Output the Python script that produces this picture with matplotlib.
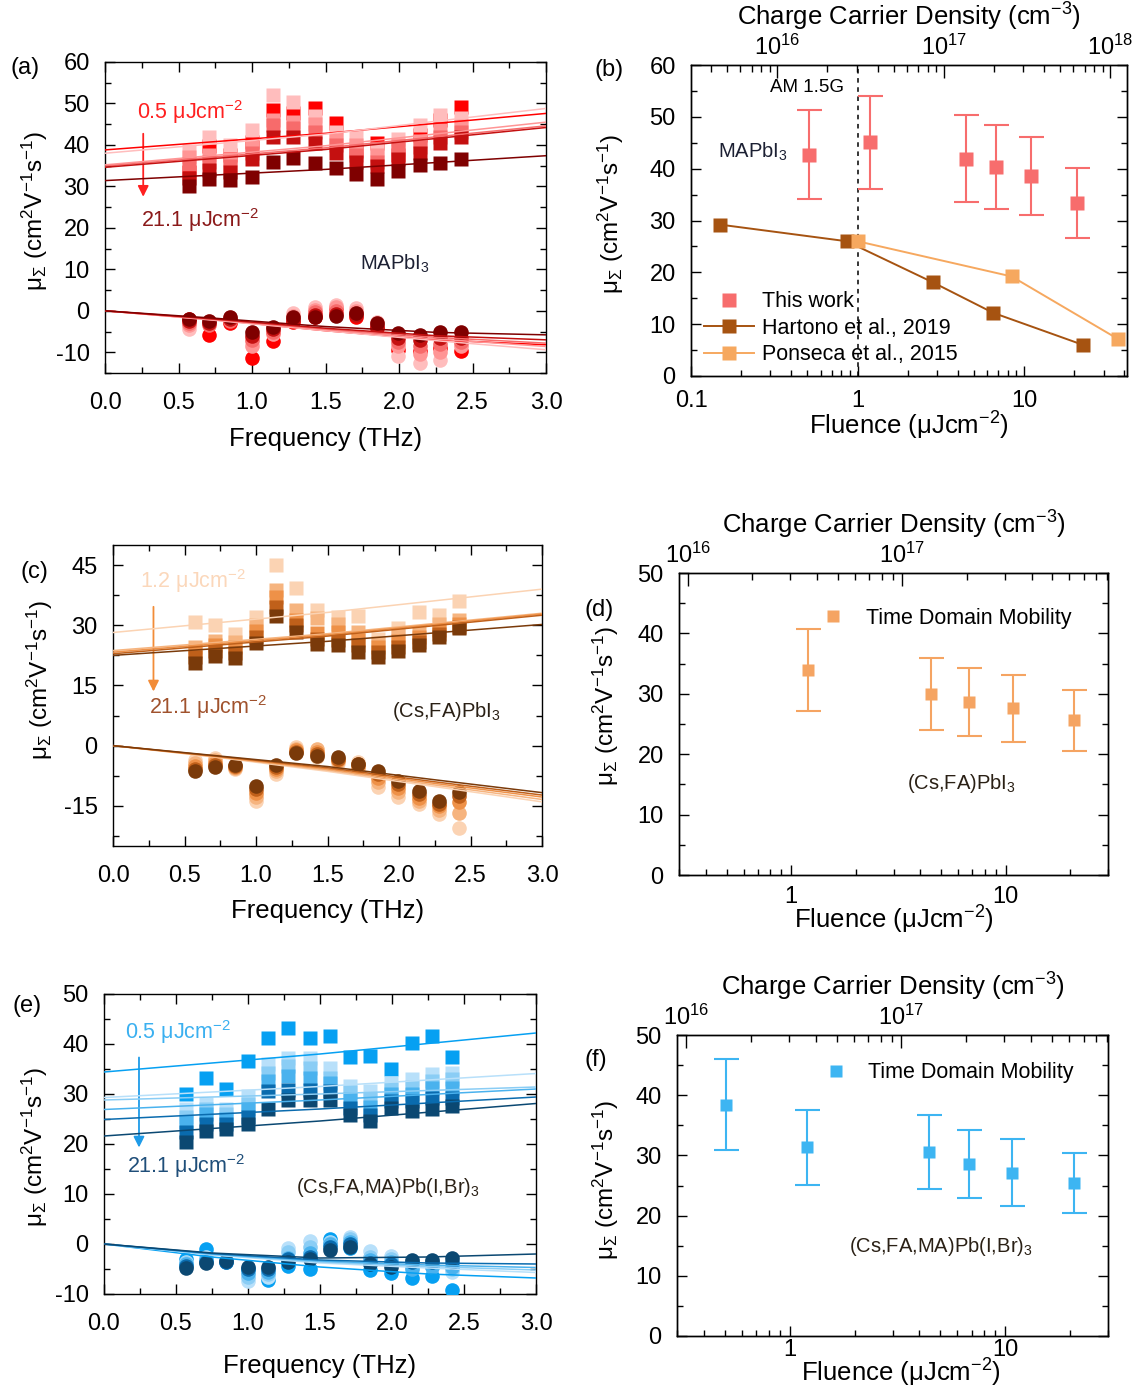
import matplotlib
matplotlib.use("Agg")
import matplotlib.pyplot as plt
from matplotlib.ticker import MultipleLocator, NullFormatter, LogLocator

plt.rcParams.update({
    "font.family": ["Liberation Sans", "DejaVu Sans"],
    "mathtext.fontset": "custom",
    "mathtext.rm": "Liberation Sans",
    "mathtext.it": "Liberation Sans:italic",
    "mathtext.bf": "Liberation Sans:bold",
    "axes.unicode_minus": False,
    "axes.linewidth": 1.0,
})

W, H = 1140, 1389
TICK_FS, LAB_FS, TXT_FS = 17, 18.5, 15.5
UNIT = "μJcm$^{-2}$"
YLAB = "μ$_{\\Sigma}$ (cm$^{2}$V$^{-1}$s$^{-1}$)"
DENS_PER_FLU = 3.03e16   # cm^-3 per uJ/cm^2, top axes

# ---------------- frequency-resolved mobility (a), (c), (e) ----------------
FREQ = [0.57, 0.71, 0.85, 1.00, 1.14, 1.28, 1.43, 1.57, 1.71, 1.85, 1.99, 2.14, 2.28, 2.42]
FIT_F_RE = [0.0, 1.5, 3.0]
FIT_F_IM = [0.0, 0.75, 1.5, 2.25, 3.0]

# (a) MAPbI3, fluences 0.5, 1.2, 4.5, 6.7, 11, 21.1
A_COLORS = ["#FF0000", "#FFBDBD", "#FF9595", "#F76B6B", "#C41010", "#7F0000"]
A_REAL = [
    [33.5, 39.8, 37.6, 40.8, 48.4, 47.7, 48.8, 45.4, 38.5, 40.5, 37.6, 42.4, 46.0, 49.2],
    [38.5, 41.8, 40.0, 43.6, 52.0, 50.4, 47.0, 43.2, 42.0, 39.0, 41.5, 44.8, 47.2, 46.4],
    [37.0, 37.5, 36.5, 39.5, 46.0, 45.6, 45.0, 41.5, 40.0, 37.5, 40.0, 41.0, 43.5, 44.5],
    [35.5, 36.0, 35.0, 38.0, 44.8, 44.0, 43.0, 40.0, 37.5, 36.0, 39.0, 39.5, 42.0, 43.0],
    [32.0, 34.0, 33.5, 36.5, 42.0, 42.0, 40.5, 38.0, 36.0, 35.0, 36.5, 38.0, 40.5, 42.0],
    [30.0, 31.7, 31.6, 32.2, 36.0, 36.8, 35.6, 34.4, 33.0, 31.7, 33.6, 35.2, 35.6, 36.5],
]
A_IMAG = [
    [-2.0, -5.8, -3.0, -11.4, -7.4, -2.6, -1.4, 0.6, -1.4, -4.2, -9.4, -9.8, -9.0, -9.8],
    [-4.5, -2.5, -1.5, -7.5, -5.0, -0.6, 1.0, 1.5, 0.6, -2.6, -11.0, -12.6, -11.8, -8.0],
    [-3.5, -3.0, -2.0, -8.5, -5.5, -1.2, 0.3, 0.8, 0.0, -3.0, -8.5, -10.5, -10.0, -8.5],
    [-3.0, -3.5, -2.5, -7.0, -5.0, -1.8, -0.3, 0.0, -0.5, -3.5, -7.5, -8.5, -8.0, -7.5],
    [-2.5, -3.0, -2.0, -6.0, -4.5, -2.2, -1.0, -0.8, -1.0, -3.8, -6.5, -7.0, -6.5, -6.5],
    [-2.0, -2.5, -1.5, -5.0, -3.8, -1.5, -1.5, -1.3, -0.5, -3.0, -5.4, -5.8, -5.0, -5.0],
]
A_FIT_RE = [[38.8, 42.8, 47.6], [38.0, 42.6, 48.8], [35.2, 39.8, 45.5],
            [34.9, 39.3, 44.6], [34.6, 38.9, 44.2], [31.4, 34.1, 37.4]]
A_FIT_IM = [[0, -2.2, -4.8, -7.0, -8.2], [0, -2.3, -4.8, -7.2, -9.4],
            [0, -2.2, -4.6, -6.8, -8.6], [0, -2.1, -4.4, -6.4, -7.8],
            [0, -2.0, -4.2, -6.0, -7.0], [0, -1.8, -3.8, -5.2, -5.8]]

# (c) (Cs,FA)PbI3, fluences 1.2, 4.5, 6.7, 11, 21.1
C_COLORS = ["#FBD3B3", "#F6B47F", "#EE9148", "#C0601A", "#7A3A0A"]
C_REAL = [
    [30.7, 30.0, 27.9, 32.0, 45.0, 39.3, 33.8, 32.1, 32.3, 26.7, 29.3, 33.3, 32.5, 36.0],
    [24.5, 26.2, 25.8, 30.0, 38.8, 33.8, 31.7, 30.4, 28.3, 25.5, 27.5, 28.3, 30.4, 31.3],
    [23.5, 25.0, 24.5, 28.5, 37.0, 31.3, 28.0, 28.3, 26.3, 24.5, 26.0, 27.0, 28.8, 30.4],
    [22.0, 23.5, 23.0, 27.0, 34.5, 30.0, 26.7, 26.3, 25.0, 23.3, 24.5, 25.8, 27.9, 29.6],
    [20.5, 22.3, 21.9, 25.7, 32.3, 28.2, 25.4, 25.0, 23.3, 22.0, 23.5, 25.0, 27.1, 29.2],
]
C_IMAG = [
    [-3.5, -3.0, -5.8, -13.7, -7.0, -0.4, -2.9, -4.2, -4.0, -10.4, -12.9, -14.6, -17.0, -20.4],
    [-4.2, -3.6, -5.5, -12.8, -6.4, -0.8, -0.8, -3.8, -5.5, -9.0, -11.5, -13.8, -16.0, -16.8],
    [-5.0, -4.2, -5.2, -11.8, -5.8, -1.2, -1.5, -3.5, -5.0, -8.0, -10.5, -13.0, -15.0, -14.0],
    [-5.7, -4.8, -5.0, -10.8, -5.3, -1.5, -2.0, -3.2, -4.5, -7.0, -9.5, -12.0, -14.5, -12.5],
    [-6.3, -5.4, -4.8, -10.0, -4.8, -1.8, -2.5, -2.9, -4.5, -6.3, -8.8, -11.3, -13.8, -11.5],
]
C_FIT_RE = [[28.2, 33.2, 39.0], [23.7, 27.9, 33.0], [23.3, 27.6, 32.8],
            [22.9, 27.3, 32.5], [22.5, 26.0, 30.2]]
C_FIT_IM = [[0, -3.0, -6.4, -10.2, -14.0], [0, -2.9, -6.1, -9.8, -13.4],
            [0, -2.8, -5.8, -9.4, -12.8], [0, -2.7, -5.5, -9.0, -12.3],
            [0, -2.6, -5.2, -8.5, -11.7]]

# (e) (Cs,FA,MA)Pb(I,Br)3, fluences 0.5, 1.2, 4.5, 6.7, 11, 21.1
E_COLORS = ["#06A0F2", "#B8E0FA", "#8ACDF5", "#4AB2EE", "#0A6BAE", "#0B4872"]
E_REAL = [
    [30.0, 33.3, 31.1, 36.6, 41.3, 43.3, 41.3, 41.6, 37.4, 37.6, 35.0, 40.3, 41.6, 37.4],
    [27.0, 28.0, 27.0, 29.6, 36.0, 37.3, 37.3, 35.3, 31.6, 30.6, 32.3, 33.0, 34.0, 34.3],
    [25.5, 27.0, 26.0, 28.0, 34.3, 35.6, 35.3, 33.3, 30.5, 29.0, 31.0, 31.5, 32.6, 33.0],
    [24.5, 26.0, 25.0, 27.0, 32.6, 33.6, 33.3, 32.3, 29.0, 27.5, 30.0, 30.0, 31.3, 31.3],
    [22.5, 24.0, 24.0, 25.5, 30.6, 30.9, 30.9, 30.6, 27.3, 25.9, 28.6, 28.6, 29.3, 29.3],
    [20.5, 22.6, 23.0, 24.0, 27.0, 28.9, 28.9, 28.9, 25.9, 24.6, 27.3, 26.6, 27.0, 27.6],
]
E_IMAG = [
    [-3.0, -0.9, -3.6, -5.0, -7.1, -4.4, -4.9, 1.0, -0.7, -5.1, -5.7, -6.7, -6.4, -9.1],
    [-3.5, -2.5, -3.2, -7.4, -6.5, -0.7, 0.6, 0.5, 1.4, -1.4, -2.4, -4.0, -4.0, -5.5],
    [-3.8, -3.0, -3.3, -6.5, -6.0, -1.5, -0.5, 0.3, 1.0, -2.5, -3.0, -4.5, -4.5, -5.0],
    [-4.0, -3.2, -3.4, -5.8, -5.5, -2.7, -1.7, 0.0, 0.5, -3.2, -3.5, -5.0, -4.5, -4.5],
    [-4.3, -3.5, -3.5, -5.0, -5.0, -3.0, -2.5, -0.5, 0.0, -3.8, -4.0, -3.5, -3.5, -3.5],
    [-4.7, -3.7, -3.4, -4.5, -4.5, -3.5, -3.0, -1.1, -0.5, -4.0, -4.5, -3.1, -3.1, -2.7],
]
E_FIT_RE = [[34.4, 38.0, 42.2], [29.3, 31.5, 34.1], [28.8, 30.0, 31.4],
            [26.9, 28.8, 31.0], [24.9, 27.0, 29.4], [21.6, 24.6, 28.1]]
E_FIT_IM = [[0, -2.6, -4.6, -6.0, -6.8], [0, -2.2, -3.8, -4.8, -5.7],
            [0, -2.1, -3.6, -4.5, -5.2], [0, -2.0, -3.4, -4.2, -4.7],
            [0, -1.9, -3.2, -3.8, -4.0], [0, -1.8, -2.8, -2.6, -2.0]]

# ---------------- fluence dependence (b), (d), (f) ----------------
TW_FLU = [0.51, 1.19, 4.47, 6.76, 10.96, 20.9]
TW_MU = [42.7, 45.1, 41.9, 40.4, 38.6, 33.4]
TW_ERR = [8.6, 9.0, 8.4, 8.1, 7.6, 6.8]
HART_FLU = [0.15, 0.86, 2.82, 6.51, 22.6]
HART_MU = [29.2, 26.0, 18.1, 12.2, 6.0]
PONS_FLU = [1.0, 8.43, 36.8]
PONS_MU = [26.0, 19.2, 7.1]

D_FLU = [1.2, 4.47, 6.77, 10.8, 20.8]
D_MU = [33.9, 30.0, 28.6, 27.6, 25.6]
D_ERR = [6.75, 6.0, 5.6, 5.5, 5.1]

F_FLU = [0.508, 1.2, 4.45, 6.77, 10.8, 20.8]
F_MU = [38.45, 31.35, 30.6, 28.6, 27.1, 25.4]
F_ERR = [7.6, 6.25, 6.1, 5.7, 5.55, 5.05]


def rect(l, t, r, b):
    return [l / W, 1 - b / H, (r - l) / W, (b - t) / H]


def style(ax, ymaj, ymin, xpad):
    ax.yaxis.set_major_locator(MultipleLocator(ymaj))
    ax.yaxis.set_minor_locator(MultipleLocator(ymin))
    ax.tick_params(which="both", direction="in", right=True, labelsize=TICK_FS)
    ax.tick_params(which="major", length=7, width=1.0)
    ax.tick_params(which="minor", length=4, width=1.0)
    ax.tick_params(axis="x", which="major", pad=xpad)
    ax.tick_params(axis="y", which="major", pad=11)


def freq_panel(ax, real, imag, fit_re, fit_im, colors, ylim, ymaj, ymin, xlab_y, ylab_xy):
    for k, c in enumerate(colors):
        ax.plot(FREQ, real[k], "s", color=c, ms=10, mec="none", zorder=3)
        ax.plot(FREQ, imag[k], "o", color=c, ms=10.5, mec="none", zorder=3)
    for k, c in enumerate(colors):
        ax.plot(FIT_F_RE, fit_re[k], color=c, lw=1.1, zorder=4)
        ax.plot(FIT_F_IM, fit_im[k], color=c, lw=1.1, zorder=4)
    ax.set_xlim(0, 3.0)
    ax.set_ylim(*ylim)
    ax.xaxis.set_major_locator(MultipleLocator(0.5))
    ax.xaxis.set_minor_locator(MultipleLocator(0.25))
    ax.xaxis.set_major_formatter(lambda v, p: f"{v:.1f}")
    style(ax, ymaj, ymin, 14)
    ax.tick_params(which="both", top=True)
    ax.set_xlabel("Frequency (THz)", fontsize=LAB_FS)
    ax.xaxis.set_label_coords(0.5, xlab_y)
    ax.set_ylabel(YLAB, fontsize=LAB_FS - 1)
    ax.yaxis.set_label_coords(*ylab_xy)


def arrow(ax, x, y0, y1, color):
    ax.annotate("", xy=(x, y1), xytext=(x, y0),
                arrowprops=dict(arrowstyle="-|>", color=color, lw=1.3,
                                mutation_scale=16, shrinkA=0, shrinkB=0))


def top_density(ax, xlim):
    ax.tick_params(which="both", top=False)
    tw = ax.twiny()
    tw.set_xscale("log")
    tw.set_xlim(xlim[0] * DENS_PER_FLU, xlim[1] * DENS_PER_FLU)
    tw.xaxis.set_major_locator(LogLocator(base=10))
    tw.xaxis.set_minor_locator(LogLocator(base=10, subs=range(2, 10)))
    tw.xaxis.set_minor_formatter(NullFormatter())
    tw.tick_params(which="both", direction="in", labelsize=TICK_FS, pad=4)
    tw.tick_params(which="major", length=9, width=1.0)
    tw.tick_params(which="minor", length=5, width=1.0)
    tw.set_xlabel("Charge Carrier Density (cm$^{-3}$)", fontsize=LAB_FS, labelpad=6)
    return tw


def fluence_axis(ax, xlim, ticks, labels, xlab_xy, ylab_xy):
    ax.set_xscale("log")
    ax.set_xlim(*xlim)
    ax.set_xticks(ticks, labels)
    ax.xaxis.set_minor_locator(LogLocator(base=10, subs=range(2, 10)))
    ax.xaxis.set_minor_formatter(NullFormatter())
    ax.set_xlabel("Fluence (" + UNIT + ")", fontsize=LAB_FS)
    ax.xaxis.set_label_coords(*xlab_xy)
    ax.set_ylabel(YLAB, fontsize=LAB_FS - 1)
    ax.yaxis.set_label_coords(*ylab_xy)


fig = plt.figure(figsize=(W / 100, H / 100), dpi=100)

# (a)
ax = fig.add_axes(rect(105, 62, 546, 373))
freq_panel(ax, A_REAL, A_IMAG, A_FIT_RE, A_FIT_IM, A_COLORS, (-15, 60), 10, 5,
           -0.175, (-0.125, 0.52))
ax.text(0.22, 48, "0.5 " + UNIT, color="#FF2020", fontsize=TXT_FS, va="center")
ax.text(0.245, 21.9, "21.1 " + UNIT, color="#8B1A1A", fontsize=TXT_FS, va="center")
ax.text(1.735, 11.3, "MAPbI$_{3}$", color="#1C2033", fontsize=TXT_FS - 1, va="center")
arrow(ax, 0.26, 42.7, 27.5, "#FF2020")

# (b)
ax = fig.add_axes(rect(691, 65, 1127, 376))
ax.axvline(1.0, color="black", ls=(0, (3, 3)), lw=1.1, zorder=1)
ax.errorbar(TW_FLU, TW_MU, yerr=TW_ERR, fmt="none", ecolor="#F76D6D",
            capsize=9, elinewidth=1.5, capthick=1.5, zorder=3)
tw_h, = ax.plot(TW_FLU, TW_MU, "s", color="#F76D6D", ms=10, mec="none", zorder=3,
                label="This work")
ha_h, = ax.plot(HART_FLU, HART_MU, "-s", color="#A65311", ms=10, lw=1.4, mec="none",
                label="Hartono et al., 2019", zorder=3)
po_h, = ax.plot(PONS_FLU, PONS_MU, "-s", color="#F6A85F", ms=10, lw=1.4, mec="none",
                label="Ponseca et al., 2015", zorder=3)
fluence_axis(ax, (0.1, 41.5), [0.1, 1, 10], ["0.1", "1", "10"],
             (0.5, -0.11), (-0.15, 0.52))
ax.set_ylim(0, 60)
style(ax, 10, 5, 10)
ax.text(0.30, 55.7, "AM 1.5G", fontsize=TXT_FS - 2, va="center")
ax.text(0.145, 43.3, "MAPbI$_{3}$", color="#1C2033", fontsize=TXT_FS - 1, va="center")
ax.legend(handles=[tw_h, ha_h, po_h], loc="lower left", bbox_to_anchor=(0.03, 0.035),
          frameon=False, fontsize=TXT_FS, borderpad=0, borderaxespad=0,
          handlelength=2.3, handletextpad=0.4, labelspacing=0.25)
top_density(ax, (0.1, 41.5))

# (c)
ax = fig.add_axes(rect(113, 545, 542, 846))
freq_panel(ax, C_REAL, C_IMAG, C_FIT_RE, C_FIT_IM, C_COLORS, (-25, 50), 15, 7.5,
           -0.176, (-0.135, 0.55))
ax.text(0.19, 40.9, "1.2 " + UNIT, color="#FBD7BA", fontsize=TXT_FS, va="center")
ax.text(0.255, 9.6, "21.1 " + UNIT, color="#A0522D", fontsize=TXT_FS, va="center")
ax.text(1.953, 8.6, "(Cs,FA)PbI$_{3}$", color="#2A2015", fontsize=TXT_FS - 1, va="center")
arrow(ax, 0.283, 34.6, 13.5, "#F28C38")

# (d)
ax = fig.add_axes(rect(679, 573, 1108, 875))
ax.errorbar(D_FLU, D_MU, yerr=D_ERR, fmt="none", ecolor="#F5A462",
            capsize=9, elinewidth=1.5, capthick=1.5)
d_h, = ax.plot(D_FLU, D_MU, "s", color="#F5A462", ms=9, mec="none",
               label="Time Domain Mobility")
fluence_axis(ax, (0.3, 30), [1, 10], ["1", "10"], (0.5, -0.095), (-0.135, 0.56))
ax.set_ylim(0, 50)
style(ax, 10, 5, 8)
ax.text(3.45, 15.2, "(Cs,FA)PbI$_{3}$", color="#2A2015", fontsize=TXT_FS - 1, va="center")
ax.legend(handles=[d_h], loc="upper left", bbox_to_anchor=(0.335, 0.885), frameon=False,
          fontsize=TXT_FS, borderpad=0, borderaxespad=0, handlelength=1.0,
          handletextpad=1.0)
top_density(ax, (0.3, 30))

# (e)
ax = fig.add_axes(rect(104, 994, 536, 1294))
freq_panel(ax, E_REAL, E_IMAG, E_FIT_RE, E_FIT_IM, E_COLORS, (-10, 50), 10, 5,
           -0.2, (-0.125, 0.49))
ax.text(0.146, 42.3, "0.5 " + UNIT, color="#3BB0F0", fontsize=TXT_FS, va="center")
ax.text(0.162, 15.6, "21.1 " + UNIT, color="#1F4E79", fontsize=TXT_FS, va="center")
ax.text(1.33, 11.3, "(Cs,FA,MA)Pb(I,Br)$_{3}$", color="#2A2015", fontsize=TXT_FS - 1,
        va="center")
arrow(ax, 0.243, 37.3, 19.3, "#1E9BE8")

# (f)
ax = fig.add_axes(rect(677, 1035, 1108, 1336))
ax.errorbar(F_FLU, F_MU, yerr=F_ERR, fmt="none", ecolor="#3DB5F2",
            capsize=9, elinewidth=1.5, capthick=1.5)
f_h, = ax.plot(F_FLU, F_MU, "s", color="#3DB5F2", ms=9, mec="none",
               label="Time Domain Mobility")
fluence_axis(ax, (0.3, 30), [1, 10], ["1", "10"], (0.52, -0.07), (-0.13, 0.52))
ax.set_ylim(0, 50)
style(ax, 10, 5, 2)
ax.text(1.89, 14.8, "(Cs,FA,MA)Pb(I,Br)$_{3}$", color="#2A2015", fontsize=TXT_FS - 1,
        va="center")
ax.legend(handles=[f_h], loc="upper left", bbox_to_anchor=(0.343, 0.91), frameon=False,
          fontsize=TXT_FS, borderpad=0, borderaxespad=0, handlelength=1.0,
          handletextpad=1.0)
top_density(ax, (0.3, 30))

for lab, x, y in [("(a)", 10, 68), ("(b)", 595, 70), ("(c)", 20, 572),
                  ("(d)", 584, 610), ("(e)", 12, 1006), ("(f)", 584, 1060)]:
    fig.text(x / W, 1 - y / H, lab, fontsize=TICK_FS, va="center", ha="left")

fig.savefig("out.png", dpi=100)
